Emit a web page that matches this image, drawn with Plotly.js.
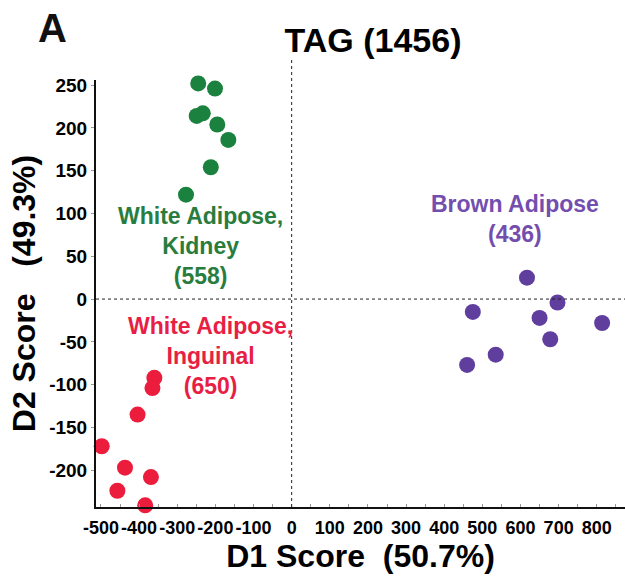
<!DOCTYPE html>
<html>
<head>
<meta charset="utf-8">
<script src="https://cdn.plot.ly/plotly-3.0.1.min.js"></script>
<style>html,body{margin:0;padding:0;background:#fff;}#chart{width:625px;height:587px;}</style>
</head>
<body>
<div id="chart"></div>
<script>
// Data
const kidneyX = [-245, -201, -249, -233, -195, -166, -212, -277];
const kidneyY = [252, 246, 214, 217, 204, 186, 154, 122];
const inguinalX = [-360, -365, -404, -498, -437, -457, -369, -384];
const inguinalY = [-92, -104, -135, -172, -197, -224, -208, -241];
const brownX = [617, 697, 475, 650, 814, 678, 535, 460];
const brownY = [25, -4, -15, -22, -28, -47, -65, -77];
const xTicks = [-500, -400, -300, -200, -100, 0, 100, 200, 300, 400, 500, 600, 700, 800];
const yTicks = [-200, -150, -100, -50, 0, 50, 100, 150, 200, 250];
const groupNames = ['White Adipose, Kidney (558)', 'White Adipose, Inguinal (650)', 'Brown Adipose (436)'];

const green = 'rgb(26,130,62)';
const red = 'rgb(236,28,60)';
const purple = 'rgb(96,62,158)';
const F = 'Arial, "Liberation Sans", sans-serif';

const mk = (x, y, c, n) => ({
  x: x, y: y, type: 'scatter', mode: 'markers', name: n,
  marker: {color: c, size: 16, line: {width: 0}},
  cliponaxis: false, hoverinfo: 'x+y'
});

const data = [
  mk(kidneyX, kidneyY, green, groupNames[0]),
  mk(inguinalX, inguinalY, red, groupNames[1]),
  mk(brownX, brownY, purple, groupNames[2])
];

const layout = {
  width: 625, height: 587,
  margin: {l: 96, r: 0, t: 80, b: 80},
  paper_bgcolor: '#fff', plot_bgcolor: '#fff',
  showlegend: false,
  font: {family: F, color: '#000'},
  title: {
    text: 'TAG (1456)', x: 373 / 625, xanchor: 'center', xref: 'container',
    y: 1 - 40 / 587, yref: 'container', yanchor: 'middle',
    font: {size: 34, weight: 'bold', color: '#000', family: F}
  },
  xaxis: {
    range: [-513, 874], tickvals: xTicks, ticktext: xTicks.map(String), tickangle: 0,
    showgrid: false, zeroline: false, showline: true, linecolor: '#111', linewidth: 2,
    ticks: 'inside', ticklen: 3, tickcolor: '#999', tickwidth: 1, ticklabelstandoff: 3,
    minor: {dtick: 50, ticks: 'inside', ticklen: 3, tickcolor: '#999'},
    tickfont: {size: 18, weight: 'bold', family: F, color: '#000'},
    title: {text: 'D1 Score\u00a0\u00a0(50.7%)', standoff: 5, font: {size: 32, weight: 'bold', family: F, color: '#000'}}
  },
  yaxis: {
    range: [-243, 256], tickvals: yTicks, ticktext: yTicks.map(String),
    showgrid: false, zeroline: false, showline: true, linecolor: '#111', linewidth: 2,
    ticks: 'outside', ticklen: 3, tickcolor: '#999', tickwidth: 1,
    tickfont: {size: 19, weight: 'bold', family: F, color: '#000'},
    title: {text: 'D2 Score\u00a0\u00a0\u00a0(49.3%)', standoff: 4, font: {size: 32, weight: 'bold', family: F, color: '#000'}}
  },
  shapes: [
    {type: 'line', xref: 'x', yref: 'paper', x0: 0, x1: 0, y0: 0, y1: 1.047,
     line: {color: '#222', width: 1, dash: 'dot'}},
    {type: 'line', xref: 'paper', yref: 'y', x0: 0, x1: 1, y0: 0, y1: 0,
     line: {color: '#222', width: 1, dash: 'dot'}}
  ],
  annotations: [
    {text: 'A', xref: 'paper', yref: 'paper', x: -0.083, y: 1.122, showarrow: false,
     xanchor: 'center', yanchor: 'middle', font: {size: 40, weight: 'bold', family: F, color: '#111'}},
    {text: 'White Adipose,<br>Kidney<br>(558)', xref: 'x', yref: 'y', x: -240, y: 62,
     showarrow: false, align: 'center', xanchor: 'center', yanchor: 'middle',
     font: {size: 23, weight: 'bold', family: F, color: 'rgb(40,125,62)'}},
    {text: 'White Adipose,<br>Inguinal<br>(650)', xref: 'x', yref: 'y', x: -212, y: -67,
     showarrow: false, align: 'center', xanchor: 'center', yanchor: 'middle',
     font: {size: 23, weight: 'bold', family: F, color: 'rgb(232,30,68)'}},
    {text: 'Brown Adipose<br>(436)', xref: 'x', yref: 'y', x: 586, y: 93,
     showarrow: false, align: 'center', xanchor: 'center', yanchor: 'middle',
     font: {size: 23, weight: 'bold', family: F, color: 'rgb(115,78,175)'}}
  ]
};

Plotly.newPlot('chart', data, layout, {displayModeBar: false, staticPlot: true});
</script>
</body>
</html>
